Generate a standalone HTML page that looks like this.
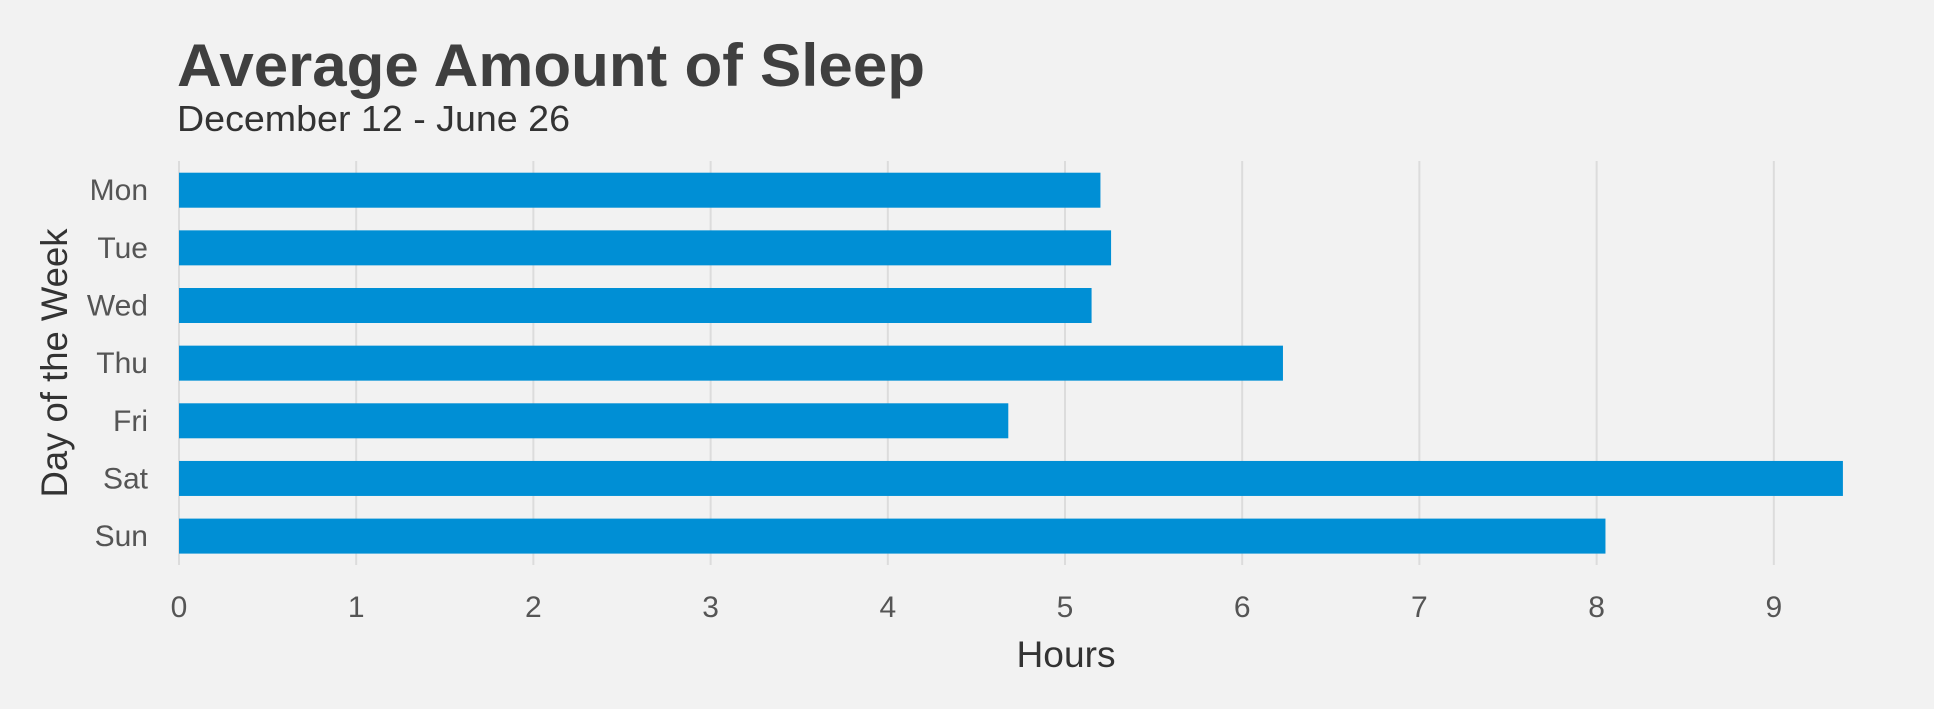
<!DOCTYPE html>
<html><head><meta charset="utf-8"><style>
html,body{margin:0;padding:0;background:#f2f2f2}
svg{display:block}
text{font-family:"Liberation Sans",sans-serif}
</style></head><body>
<svg id="chart" width="1934" height="709" viewBox="0 0 1934 709">
<rect width="1934" height="709" fill="#f2f2f2"/>
<text x="177" y="86" font-size="60" font-weight="bold" fill="#3f3f3f" textLength="748" lengthAdjust="spacingAndGlyphs">Average Amount of Sleep</text>
<text x="177" y="131" font-size="36" fill="#333" textLength="393" lengthAdjust="spacingAndGlyphs">December 12 - June 26</text>
<g id="grid"></g>
<g id="bars"></g>
<g id="ylabels"></g>
<g id="xlabels"></g>
<text x="1066" y="667" font-size="37" fill="#333" text-anchor="middle" textLength="99" lengthAdjust="spacingAndGlyphs">Hours</text>
<text transform="translate(67,363) rotate(-90)" font-size="37" fill="#333" text-anchor="middle" textLength="269" lengthAdjust="spacingAndGlyphs">Day of the Week</text>
</svg>
<script>
const days = ["Mon","Tue","Wed","Thu","Fri","Sat","Sun"];
const hours = [5.20,5.26,5.15,6.23,4.68,9.39,8.05];
const xTicks = [0,1,2,3,4,5,6,7,8,9];

const NS = "http://www.w3.org/2000/svg";
const x0 = 179, unit = 177.2;
const xScale = v => x0 + v * unit;
const yTop = 172.7, step = 57.65, barH = 35;
const yScale = i => yTop + i * step;

const grid = document.getElementById('grid');
const xl = document.getElementById('xlabels');
xTicks.forEach(t => {
  const l = document.createElementNS(NS,'line');
  l.setAttribute('x1', xScale(t)); l.setAttribute('x2', xScale(t));
  l.setAttribute('y1', 161); l.setAttribute('y2', 565);
  l.setAttribute('stroke', '#dcdcdc'); l.setAttribute('stroke-width', 2);
  
  
  grid.appendChild(l);
  const tx = document.createElementNS(NS,'text');
  tx.setAttribute('x', xScale(t)); tx.setAttribute('y', 617);
  tx.setAttribute('font-size', 30); tx.setAttribute('fill', '#555');
  tx.setAttribute('text-anchor', 'middle');
  tx.textContent = t;
  
  
  xl.appendChild(tx);
});

const bars = document.getElementById('bars');
const yl = document.getElementById('ylabels');
days.forEach((d, i) => {
  const r = document.createElementNS(NS,'rect');
  r.setAttribute('x', xScale(0)); r.setAttribute('y', yScale(i));
  r.setAttribute('width', xScale(hours[i]) - xScale(0)); r.setAttribute('height', barH);
  r.setAttribute('fill', '#008fd5');
  
  
  bars.appendChild(r);
  const tx = document.createElementNS(NS,'text');
  tx.setAttribute('x', 148); tx.setAttribute('y', yScale(i) + barH/2 + 10);
  tx.setAttribute('font-size', 30); tx.setAttribute('fill', '#555');
  tx.setAttribute('text-anchor', 'end');
  tx.textContent = d;
  
  
  yl.appendChild(tx);
});
</script>
</body></html>
